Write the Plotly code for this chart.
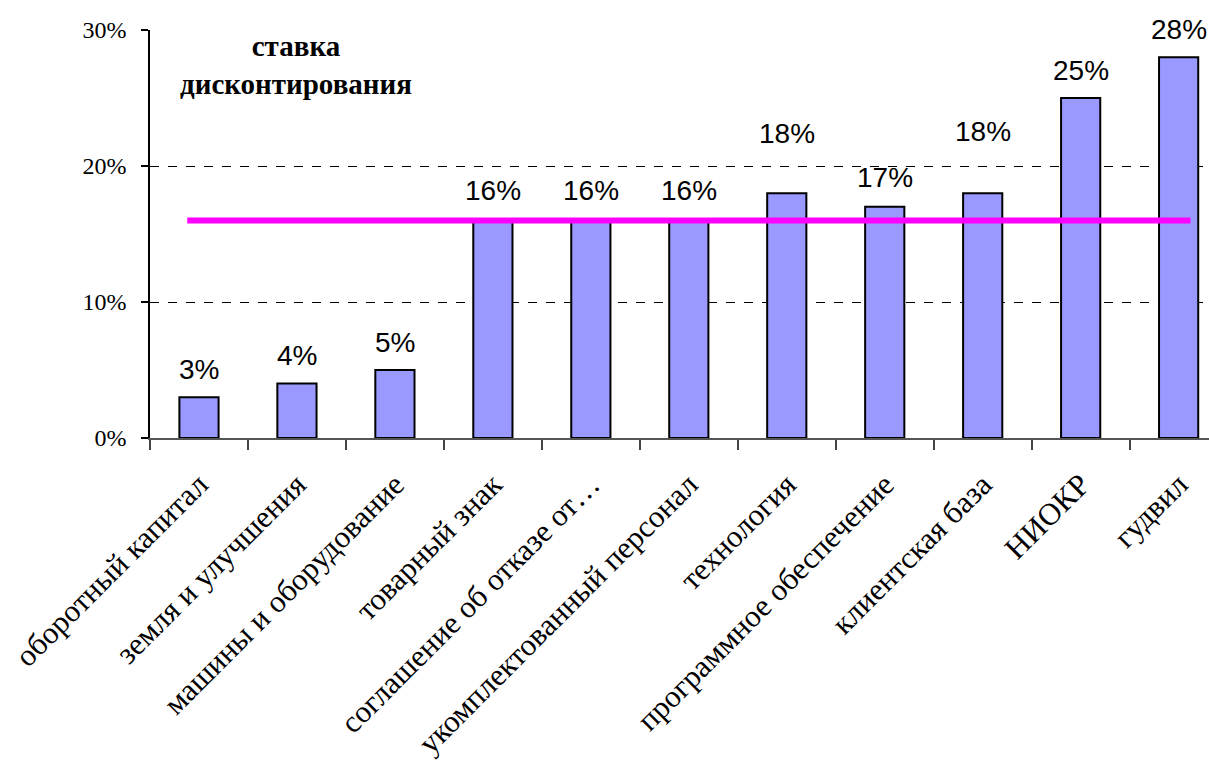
import plotly.graph_objects as go

# Discount rate per asset class
categories = [
    "оборотный капитал",
    "земля и улучшения",
    "машины и оборудование",
    "товарный знак",
    "соглашение об отказе от…",
    "укомплектованный персонал",
    "технология",
    "программное обеспечение",
    "клиентская база",
    "НИОКР",
    "гудвил",
]
rates = [3, 4, 5, 16, 16, 16, 18, 17, 18, 25, 28]
discount_rate = 16  # overall discount rate (horizontal line)

y_tickvals = [0, 10, 20, 30]
y_ticktext = ["0%", "10%", "20%", "30%"]

# vertical offset (px) of each value label above its bar
label_shift = [28, 28, 28, 30, 30, 30, 60, 29, 62, 28, 28]

fig = go.Figure()
fig.add_trace(go.Bar(
    x=categories,
    y=rates,
    width=0.4,
    marker=dict(color="#9999FF", line=dict(color="black", width=2)),
    hoverinfo="skip",
))

for cat, val, dy in zip(categories, rates, label_shift):
    fig.add_annotation(
        x=cat, y=val, yshift=dy, text=f"{val}%", showarrow=False,
        xanchor="center", yanchor="middle",
        font=dict(family="Liberation Sans, Arial", size=28, color="black"),
    )

# discount-rate line across the bars
fig.add_shape(
    type="line", xref="x", yref="y",
    x0=-0.12, x1=len(categories) - 1 + 0.12,
    y0=discount_rate, y1=discount_rate,
    line=dict(color="#FF00FF", width=6),
)

fig.add_annotation(
    xref="paper", yref="paper", x=(296 - 150) / 1059, y=0.915,
    text="<b>ставка<br>дисконтирования</b>", showarrow=False,
    xanchor="center", yanchor="middle", align="center",
    font=dict(family="Liberation Serif, Times New Roman", size=29, color="black"),
)

fig.update_layout(
    width=1209, height=765,
    margin=dict(l=150, r=0, t=30, b=327),
    plot_bgcolor="white", paper_bgcolor="white",
    showlegend=False,
    bargap=0.6,
)
fig.update_xaxes(
    type="category",
    range=[-0.5, 10.31],
    tickangle=-45,
    tickson="boundaries",
    ticks="outside", ticklen=10, tickcolor="#444", tickwidth=1.5,
    ticklabelstandoff=14,
    showline=True, linecolor="#555", linewidth=2,
    showgrid=False,
    tickfont=dict(family="Liberation Serif, Times New Roman", size=31, color="black"),
)
fig.update_yaxes(
    range=[0, 30],
    tickvals=y_tickvals, ticktext=y_ticktext,
    ticks="outside", ticklen=7, tickcolor="black", tickwidth=1.5,
    ticklabelstandoff=10,
    showline=True, linecolor="black", linewidth=1.5,
    showgrid=True, gridcolor="black", gridwidth=1, griddash="dash",
    zeroline=False,
    tickfont=dict(family="Liberation Serif, Times New Roman", size=24, color="black"),
)

fig.write_html("out.html")
